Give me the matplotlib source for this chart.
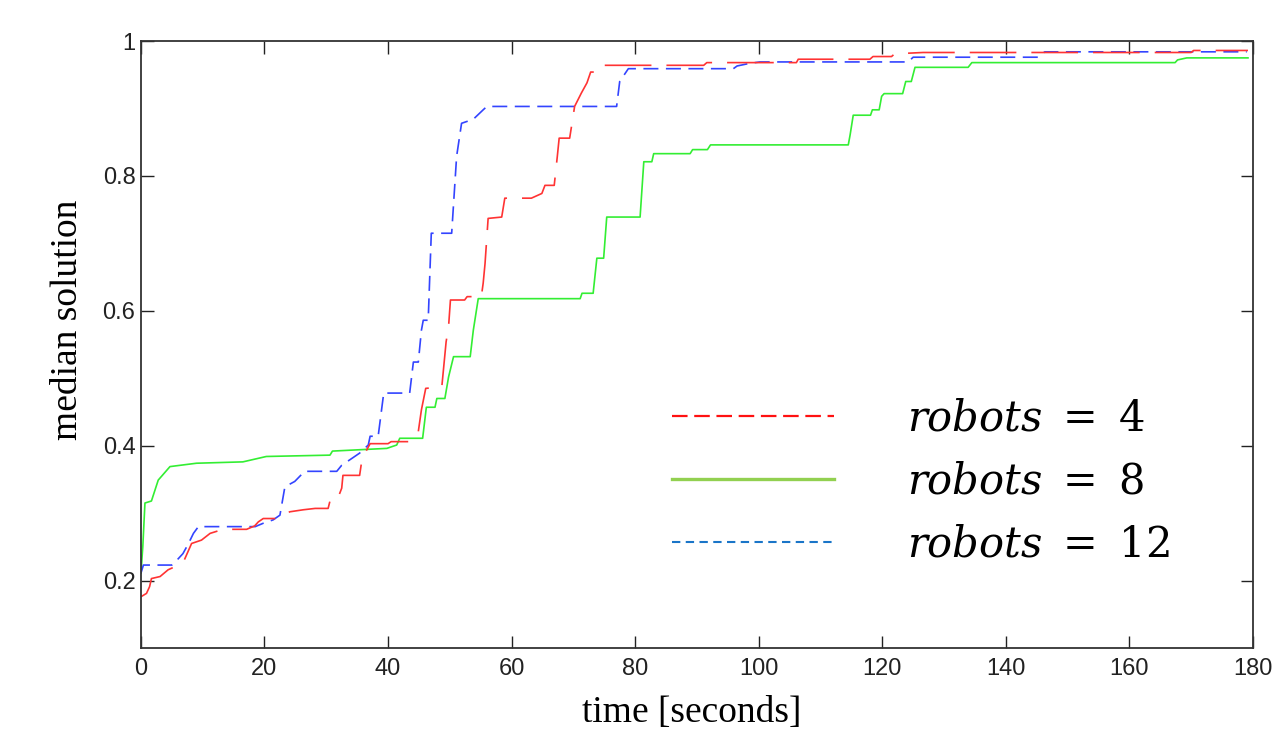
import matplotlib
matplotlib.use("Agg")
import matplotlib.pyplot as plt
from matplotlib.lines import Line2D

# median solution vs time
r8_t = [0, 0.3, 0.65, 1.7, 2.8, 4.7, 9.0, 16.5, 20.3, 30.6, 31.0, 39.8, 41.4, 41.9, 45.6, 46.2,
        47.6, 47.9, 49.2, 49.8, 50.6, 53.3, 53.8, 54.6, 71.1, 71.4, 73.2, 73.8, 74.9, 75.4, 80.8,
        81.4, 82.7, 83.0, 88.9, 89.3, 91.7, 92.2, 114.5, 114.8, 115.3, 118.1, 118.4, 119.5, 119.9,
        120.3, 123.3, 123.8, 124.7, 125.3, 133.9, 134.5, 167.4, 167.8, 169.3, 179.2]
r8_v = [0.211, 0.25, 0.315, 0.318, 0.349, 0.369, 0.374, 0.376, 0.384, 0.386, 0.392, 0.396, 0.401,
        0.411, 0.411, 0.457, 0.457, 0.470, 0.470, 0.502, 0.532, 0.532, 0.571, 0.618, 0.618, 0.626,
        0.626, 0.678, 0.678, 0.739, 0.739, 0.821, 0.821, 0.833, 0.833, 0.839, 0.839, 0.846, 0.846,
        0.861, 0.890, 0.890, 0.898, 0.898, 0.918, 0.922, 0.922, 0.940, 0.940, 0.961, 0.961, 0.968,
        0.968, 0.972, 0.975, 0.975]

r4_t = [0, 0.9, 1.4, 1.7, 3.1, 4.4, 6.8, 8.2, 9.8, 11.2, 13.3, 17.1, 18.4, 19.0, 19.8, 22.0, 22.5,
        24.1, 26.3, 28.2, 30.3, 30.6, 31.7, 32.5, 32.7, 35.4, 35.8, 37.1, 40.0, 40.5, 43.5, 44.9,
        45.4, 46.1, 48.7, 49.4, 49.8, 50.1, 52.4, 52.8, 55.1, 55.4, 55.7, 56.2, 58.4, 58.9, 63.2,
        64.9, 65.4, 66.9, 67.4, 67.7, 69.4, 70.2, 71.3, 72.2, 72.8, 74.0, 74.6, 91.1, 91.6, 106.1,
        106.4, 118.0, 118.5, 121.5, 122.0, 126.6, 170.0, 170.4, 179.2]
r4_v = [0.176, 0.181, 0.191, 0.203, 0.206, 0.216, 0.226, 0.255, 0.260, 0.270, 0.276, 0.276, 0.281,
        0.287, 0.292, 0.292, 0.295, 0.302, 0.305, 0.307, 0.307, 0.318, 0.318, 0.337, 0.356, 0.356,
        0.381, 0.403, 0.403, 0.406, 0.406, 0.421, 0.453, 0.485, 0.487, 0.554, 0.577, 0.616, 0.616,
        0.621, 0.621, 0.641, 0.670, 0.737, 0.739, 0.767, 0.767, 0.774, 0.786, 0.786, 0.829, 0.856,
        0.856, 0.903, 0.923, 0.938, 0.954, 0.954, 0.964, 0.964, 0.968, 0.968, 0.973, 0.973, 0.977,
        0.977, 0.981, 0.983, 0.983, 0.986, 0.986]

r12_t = [0, 0.4, 5.0, 5.8, 6.8, 7.7, 8.5, 9.3, 18.5, 19.8, 21.4, 22.5, 23.3, 24.9, 26.5, 31.7, 32.5,
         33.8, 35.4, 36.8, 37.1, 38.4, 39.3, 43.5, 44.1, 44.9, 45.4, 45.7, 46.5, 47.0, 50.3, 51.1,
         51.9, 53.8, 55.4, 56.0, 77.0, 77.5, 78.9, 95.9, 96.5, 98.6, 100.2, 119.6, 124.2, 125.0,
         145.2, 146.3, 179.0]
r12_v = [0.211, 0.223, 0.223, 0.230, 0.240, 0.255, 0.270, 0.280, 0.280, 0.285, 0.290, 0.297, 0.339,
         0.347, 0.362, 0.362, 0.371, 0.379, 0.389, 0.401, 0.414, 0.414, 0.478, 0.478, 0.524, 0.524,
         0.571, 0.586, 0.586, 0.715, 0.715, 0.829, 0.878, 0.884, 0.898, 0.903, 0.903, 0.940, 0.959,
         0.959, 0.963, 0.967, 0.969, 0.969, 0.969, 0.976, 0.976, 0.984, 0.984]

legend_labels = [r"$robots\ =\ 4$", r"$robots\ =\ 8$", r"$robots\ =\ 12$"]
x_ticks = [0, 20, 40, 60, 80, 100, 120, 140, 160, 180]
y_ticks = [0.2, 0.4, 0.6, 0.8, 1.0]
y_tick_labels = ["0.2", "0.4", "0.6", "0.8", "1"]

plt.rcParams["mathtext.fontset"] = "dejavuserif"

fig = plt.figure(figsize=(12.72, 7.30), dpi=100)
ax = fig.add_axes([0.1108, 0.1123, 0.8742, 0.8315])

ax.plot(r8_t, r8_v, color="#33ee33", lw=1.2)
ax.plot(r12_t, r12_v, color="#3344ff", lw=1.2, ls=(0, (9, 4.5)))
ax.plot(r4_t, r4_v, color="#ff3333", lw=1.2, ls=(0, (28, 9)))

ax.set_xlim(0, 180)
ax.set_ylim(0.1, 1.0)
ax.set_xticks(x_ticks)
ax.set_yticks(y_ticks)
ax.set_yticklabels(y_tick_labels)
ax.tick_params(direction="in", length=9, width=1, top=True, right=True, labelsize=17,
               colors="#222222")
ax.tick_params(axis="x", pad=7)
ax.tick_params(axis="y", pad=4)
for lbl in ax.get_xticklabels() + ax.get_yticklabels():
    lbl.set_family("Liberation Sans")
for sp in ax.spines.values():
    sp.set_linewidth(1.3)
    sp.set_color("#333333")

ax.set_xlabel("time [seconds]", family="Liberation Serif", fontsize=27)
ax.set_ylabel("median solution", family="Liberation Serif", fontsize=27)
ax.xaxis.set_label_coords(0.4955, -0.078)
ax.yaxis.set_label_coords(-0.05, 0.54)

# legend was drawn by hand in the original, colours differ from the curves
handles = [
    Line2D([], [], color="#ff1111", lw=1.6, ls=(0, (7, 3))),
    Line2D([], [], color="#92d050", lw=2.4),
    Line2D([], [], color="#1a75c8", lw=1.5, ls=(0, (4, 2.6))),
]
ax.legend(handles, legend_labels, loc="upper left", bbox_to_anchor=(0.4775, 0.412),
          frameon=False, fontsize=30, handlelength=3.9, handletextpad=1.75,
          labelspacing=0.5, borderpad=0, borderaxespad=0)

fig.savefig("out.png", dpi=100)
